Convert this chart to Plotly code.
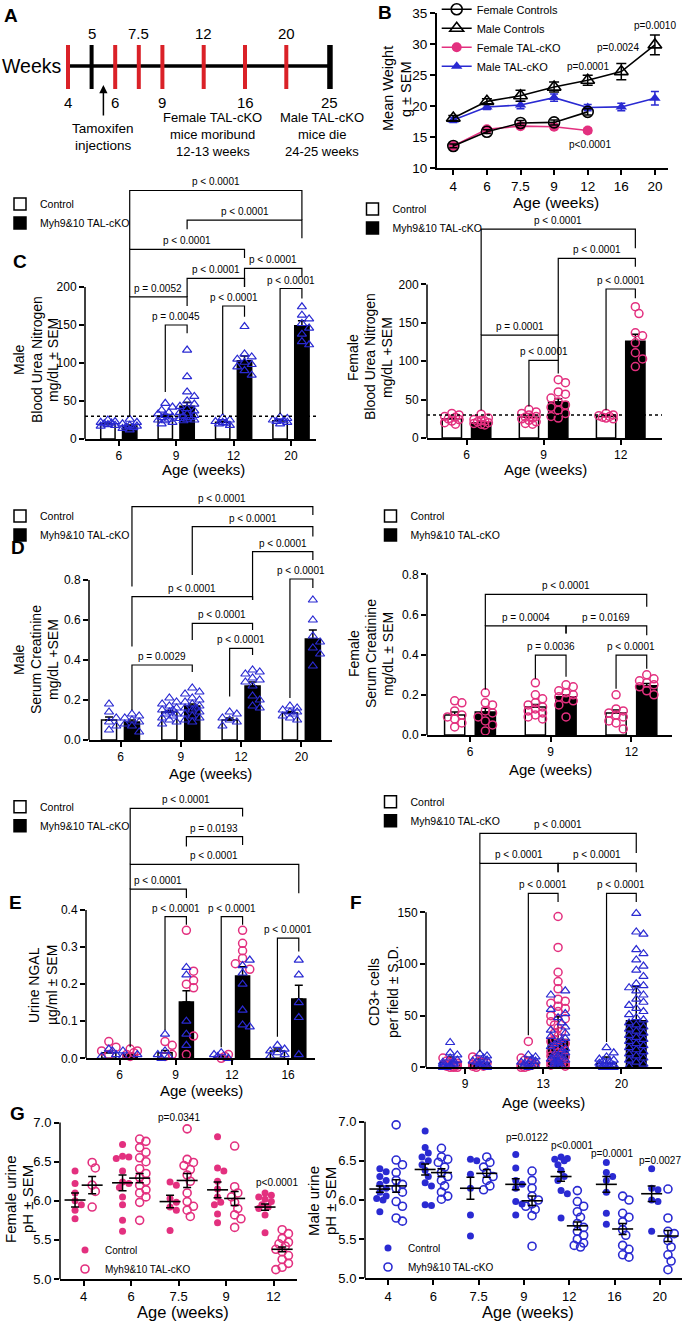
import math
import plotly.graph_objects as go

W, H = 685, 1322
FONT = "Liberation Sans, Arial, Helvetica, sans-serif"
PINK = "#E3307F"
BLUE = "#2A2AD2"
RED = "#DA2128"

# ======================= DATA =======================
# A: study timeline
tl_weeks = [4, 5, 6, 7.5, 9, 12, 16, 20, 25]
tl_labels = ["4", "5", "6", "7.5", "9", "12", "16", "20", "25"]
tl_sampled = [1, 0, 1, 1, 1, 1, 1, 1, 0]

# B: body weight (mean, SEM)
wt_weeks = ["4", "6", "7.5", "9", "12", "16", "20"]
wt_f_ctrl = [13.6, 15.9, 17.3, 17.4, 19.1]
wt_f_ctrl_sem = [0.3, 0.3, 0.4, 0.4, 0.5]
wt_m_ctrl = [18.1, 20.8, 21.7, 23.1, 24.2, 25.6, 29.9]
wt_m_ctrl_sem = [0.4, 0.4, 0.9, 0.8, 0.8, 1.3, 1.6]
wt_f_cko = [13.6, 16.3, 16.8, 16.7, 16.1]
wt_f_cko_sem = [0.3, 0.4, 0.4, 0.4, 0.4]
wt_m_cko = [17.8, 19.9, 20.2, 21.4, 19.8, 19.9, 21.3]
wt_m_cko_sem = [0.4, 0.4, 0.6, 0.6, 0.5, 0.6, 1.1]
wt_pvals = [(6, 33.1, "p=0.0010"), (4.9, 29.5, "p=0.0024"), (4.0, 26.4, "p=0.0001"), (4.07, 13.9, "p<0.0001")]

# C: male BUN
bun_m_weeks = ["6", "9", "12", "20"]
bun_m_ctrl_mean = [20, 30, 22, 24]
bun_m_ctrl_sem = [1.0, 2.2, 1.3, 1.2]
bun_m_cko_mean = [17, 43, 103, 149]
bun_m_cko_sem = [1.4, 5.5, 6.2, 6.5]
bun_m_ctrl_pts = [[25, 23, 22, 21, 20, 19, 18, 17],
                  [47, 42, 38, 35, 33, 31, 29, 28, 26, 25, 24, 22, 20],
                  [28, 25, 23, 22, 21, 20, 18],
                  [29, 27, 25, 24, 23, 22, 20]]
bun_m_cko_pts = [[26, 22, 20, 18, 17, 16, 15, 14, 12],
                 [117, 82, 62, 56, 50, 46, 43, 40, 37, 35, 33, 31, 30, 28, 27, 26, 25, 24],
                 [148, 112, 108, 105, 101, 98, 95, 90, 84],
                 [174, 163, 158, 152, 146, 138, 128, 124]]
bun_m_brackets = [
    ((0, "k"), (3, "k"), 327, 250, 288, "p < 0.0001"),
    ((1, "k"), (3, "k"), 288, 276, 264, "p < 0.0001"),
    ((0, "k"), (2, "k"), 249.5, 187, 238, "p < 0.0001"),
    ((2, "k"), (3, "k"), 224.5, 200, 213, "p < 0.0001"),
    ((1, "k"), (2, "k"), 211.4, 187, 200, "p < 0.0001"),
    ((0, "k"), (1, "k"), 187, 30, 175, "p = 0.0052"),
    ((2, "c"), (2, "k"), 175, 33, 161, "p < 0.0001"),
    ((3, "c"), (3, "k"), 198, 33, 185, "p < 0.0001"),
    ((1, "c"), (1, "k"), 150, 62, 139, "p = 0.0045"),
]

# C: female BUN
bun_f_weeks = ["6", "9", "12"]
bun_f_ctrl_mean = [25, 27, 28]
bun_f_ctrl_sem = [1.5, 1.6, 1.0]
bun_f_cko_mean = [20, 47, 126]
bun_f_cko_sem = [2.0, 4.2, 9.0]
bun_f_ctrl_pts = [[32, 30, 28, 27, 25, 24, 22, 20, 18],
                  [37, 34, 32, 30, 28, 27, 26, 25, 23, 21, 19, 18],
                  [32, 30, 29, 28, 27, 26, 25]]
bun_f_cko_pts = [[31, 26, 24, 23, 22, 21, 20, 19, 18, 17],
                 [76, 72, 60, 57, 52, 47, 43, 40, 36, 32, 28, 26],
                 [171, 162, 137, 133, 124, 111, 103, 93]]
bun_f_brackets = [
    ((0, "k"), (2, "k"), 272, 134, 247, "p < 0.0001"),
    ((1, "k"), (2, "k"), 234, 134, 223, "p < 0.0001"),
    ((2, "c"), (2, "k"), 194, 36, 182, "p < 0.0001"),
    ((0, "k"), (1, "k"), 134, 36, 101, "p = 0.0001"),
    ((1, "c"), (1, "k"), 101, 41, 84, "p < 0.0001"),
]

# D: male creatinine
cr_m_weeks = ["6", "9", "12", "20"]
cr_m_ctrl_mean = [0.10, 0.14, 0.10, 0.135]
cr_m_ctrl_sem = [0.015, 0.008, 0.01, 0.008]
cr_m_cko_mean = [0.09, 0.17, 0.27, 0.505]
cr_m_cko_sem = [0.01, 0.01, 0.02, 0.045]
cr_m_ctrl_pts = [[0.18, 0.14, 0.11, 0.09, 0.07, 0.05],
                 [0.21, 0.19, 0.18, 0.17, 0.16, 0.15, 0.15, 0.14, 0.13, 0.13, 0.12, 0.11, 0.10, 0.09, 0.08],
                 [0.14, 0.13, 0.11, 0.10, 0.09, 0.07],
                 [0.17, 0.16, 0.15, 0.14, 0.14, 0.13, 0.12, 0.11, 0.10]]
cr_m_cko_pts = [[0.13, 0.12, 0.11, 0.10, 0.09, 0.08, 0.07, 0.04],
                [0.26, 0.24, 0.23, 0.21, 0.20, 0.19, 0.18, 0.17, 0.16, 0.16, 0.15, 0.14, 0.13, 0.12, 0.11, 0.10, 0.09],
                [0.35, 0.34, 0.33, 0.31, 0.30, 0.29, 0.27, 0.22, 0.20, 0.17, 0.16],
                [0.70, 0.60, 0.52, 0.49, 0.46, 0.43, 0.37]]
cr_m_brackets = [
    ((0, "k"), (3, "k"), 1.167, 0.767, 1.125, "p < 0.0001"),
    ((1, "k"), (3, "k"), 1.067, 0.825, 1.017, "p < 0.0001"),
    ((2, "k"), (3, "k"), 0.942, 0.70, 0.90, "p < 0.0001"),
    ((3, "c"), (3, "k"), 0.805, 0.21, 0.76, "p < 0.0001"),
    ((0, "k"), (2, "k"), 0.717, 0.467, 0.70, "p < 0.0001"),
    ((1, "k"), (2, "k"), 0.583, 0.50, 0.55, "p < 0.0001"),
    ((2, "c"), (2, "k"), 0.458, 0.217, 0.425, "p < 0.0001"),
    ((0, "k"), (1, "k"), 0.375, 0.15, 0.34, "p = 0.0029"),
]

# D: female creatinine
cr_f_weeks = ["6", "9", "12"]
cr_f_ctrl_mean = [0.10, 0.14, 0.11]
cr_f_ctrl_sem = [0.015, 0.012, 0.015]
cr_f_cko_mean = [0.115, 0.19, 0.245]
cr_f_cko_sem = [0.018, 0.01, 0.012]
cr_f_ctrl_pts = [[0.17, 0.16, 0.12, 0.10, 0.09, 0.08, 0.06, 0.04],
                 [0.26, 0.20, 0.18, 0.16, 0.15, 0.14, 0.13, 0.12, 0.11, 0.10, 0.09, 0.08],
                 [0.20, 0.13, 0.12, 0.11, 0.10, 0.09, 0.07, 0.06, 0.03]]
cr_f_cko_pts = [[0.21, 0.16, 0.15, 0.12, 0.11, 0.09, 0.07, 0.05, 0.02],
                [0.25, 0.24, 0.22, 0.21, 0.20, 0.19, 0.18, 0.17, 0.15, 0.09],
                [0.30, 0.28, 0.27, 0.26, 0.25, 0.24, 0.22, 0.20]]
cr_f_brackets = [
    ((0, "k"), (2, "k"), 0.70, 0.543, 0.639, "p < 0.0001"),
    ((0, "k"), (1, "k"), 0.543, 0.227, 0.506, "p = 0.0004"),
    ((1, "k"), (2, "k"), 0.543, 0.506, 0.497, "p = 0.0169"),
    ((1, "c"), (1, "k"), 0.398, 0.28, 0.29, "p = 0.0036"),
    ((2, "c"), (2, "k"), 0.398, 0.23, 0.33, "p < 0.0001"),
]

# E: urine NGAL (female = pink circles, male = blue triangles)
ngal_weeks = ["6", "9", "12", "16"]
ngal_ctrl_mean = [0.015, 0.015, 0.005, 0.02]
ngal_ctrl_sem = [0.004, 0.006, 0.002, 0.005]
ngal_cko_mean = [0.01, 0.152, 0.222, 0.16]
ngal_cko_sem = [0.003, 0.03, 0.025, 0.037]
ngal_ctrl_f = [[0.045, 0.03, 0.02, 0.01], [0.045, 0.035, 0.01, 0.005], [0.01, 0.005, 0.0], []]
ngal_ctrl_m = [[0.025, 0.02, 0.01, 0.005], [0.065, 0.02, 0.01, 0.005, 0.0],
               [0.015, 0.01, 0.005, 0.0], [0.035, 0.025, 0.02, 0.015, 0.01, 0.005]]
ngal_cko_f = [[0.025, 0.02, 0.015, 0.01, 0.005], [0.345, 0.235, 0.21, 0.2, 0.19, 0.06, 0.01],
              [0.345, 0.31, 0.29, 0.27, 0.255, 0.24], []]
ngal_cko_m = [[0.02, 0.01, 0.005], [0.245, 0.225, 0.1, 0.065, 0.035],
              [0.265, 0.25, 0.23, 0.2, 0.13, 0.09, 0.085], [0.265, 0.225, 0.15, 0.11, 0.01]]
ngal_brackets = [
    ((0, "k"), (2, "k"), 0.674, 0.523, 0.652, "p < 0.0001"),
    ((1, "k"), (2, "k"), 0.598, 0.571, 0.575, "p = 0.0193"),
    ((0, "k"), (3, "k"), 0.523, 0.456, 0.445, "p < 0.0001"),
    ((0, "k"), (1, "k"), 0.456, 0.03, 0.432, "p < 0.0001"),
    ((1, "c"), (1, "k"), 0.382, 0.076, 0.36, "p < 0.0001"),
    ((2, "c"), (2, "k"), 0.382, 0.03, 0.36, "p < 0.0001"),
    ((3, "c"), (3, "k"), 0.324, 0.058, 0.288, "p < 0.0001"),
]

# F: CD3+ cells per field (mean, SD)
cd3_weeks = ["9", "13", "20"]
cd3_ctrl_mean = [5, 4, 4]
cd3_ctrl_sd = [5, 5, 6]
cd3_cko_mean = [4, 27, 45]
cd3_cko_sd = [4, 22, 33]
cd3_ctrl_f = [[9, 6, 5, 4, 3, 3, 2, 1, 1, 0, 0, 0], [25, 9, 7, 5, 4, 3, 2, 2, 1, 0, 0], []]
cd3_ctrl_m = [[24, 14, 12, 9, 7, 6, 5, 4, 3, 3, 2, 1, 1, 0, 0],
              [12, 10, 8, 6, 5, 4, 3, 2, 1, 1, 0],
              [19, 14, 10, 8, 7, 6, 5, 4, 3, 2, 2, 1, 1, 0, 0, 0]]
cd3_cko_f = [[10, 8, 6, 5, 4, 3, 2, 1, 1, 0],
             [146, 116, 92, 83, 76, 66, 64, 62, 59, 57, 54, 50, 47, 44, 41, 38, 35, 33, 30, 27,
              25, 23, 21, 19, 17, 15, 14, 12, 11, 10, 8, 7, 6, 5, 4, 3, 2, 1],
             []]
cd3_cko_m = [[13, 11, 9, 7, 6, 5, 4, 3, 2, 2, 1, 0],
             [74, 70, 56, 52, 48, 43, 39, 36, 33, 30, 28, 26, 24, 22, 20, 18, 16, 14, 13, 11,
              10, 9, 8, 7, 6, 5, 4, 3, 2, 1],
             [149, 131, 129, 114, 110, 104, 98, 94, 88, 81, 79, 77, 74, 70, 66, 63, 60, 57, 54, 51,
              48, 46, 43, 41, 39, 37, 35, 33, 31, 29, 27, 25, 23, 21, 19, 17, 15, 13, 11, 9, 7, 5, 3, 1]]
cd3_brackets = [
    ((0, "k"), (2, "k"), 226.5, 197.5, 207.5, "p < 0.0001"),
    ((0, "k"), (1, "k"), 197.5, 15, 188.8, "p < 0.0001"),
    ((1, "k"), (2, "k"), 197.5, 188.8, 188.8, "p < 0.0001"),
    ((1, "c"), (1, "k"), 168.4, 31, 160, "p < 0.0001"),
    ((2, "c"), (2, "k"), 168.4, 24.5, 160, "p < 0.0001"),
]

# G: urine pH, female
ph_f_weeks = ["4", "6", "7.5", "9", "12"]
ph_f_ctrl_pts = [[6.38, 6.22, 6.10, 6.00, 5.95, 5.88, 5.77],
                 [6.72, 6.57, 6.56, 6.54, 6.38, 6.24, 6.22, 6.17, 6.05, 5.95, 5.75, 5.61],
                 [6.24, 6.20, 6.03, 5.98, 5.92, 5.88, 5.62],
                 [6.82, 6.42, 6.38, 6.25, 6.15, 6.05, 5.98, 5.95, 5.83, 5.72],
                 [6.10, 6.07, 6.05, 6.02, 5.99, 5.95, 5.92, 5.90, 5.82, 5.59]]
ph_f_cko_pts = [[6.49, 6.42, 6.20, 6.12, 5.92],
                [6.79, 6.76, 6.68, 6.62, 6.55, 6.50, 6.41, 6.35, 6.30, 6.25, 6.20, 6.14, 6.10, 6.05, 5.98, 5.75],
                [6.92, 6.53, 6.49, 6.45, 6.40, 6.33, 6.25, 6.10, 5.99, 5.93, 5.88, 5.80],
                [6.70, 6.18, 6.10, 6.05, 5.98, 5.90, 5.82, 5.77, 5.66],
                [5.63, 5.58, 5.52, 5.47, 5.45, 5.42, 5.38, 5.35, 5.30, 5.25, 5.20, 5.15, 5.12]]
ph_f_ctrl_mean = [6.01, 6.23, 5.99, 6.14, 5.92]
ph_f_ctrl_sem = [0.09, 0.10, 0.08, 0.10, 0.04]
ph_f_cko_mean = [6.20, 6.29, 6.26, 6.03, 5.38]
ph_f_cko_sem = [0.11, 0.06, 0.09, 0.09, 0.03]
ph_f_pvals = [(2, 7.07, "p=0.0341"), (4.07, 6.23, "p<0.0001")]

# G: urine pH, male
ph_m_weeks = ["4", "6", "7.5", "9", "12", "16", "20"]
ph_m_ctrl_pts = [[6.40, 6.36, 6.30, 6.25, 6.20, 6.15, 6.10, 6.05, 6.02, 6.00, 5.85],
                 [6.88, 6.67, 6.60, 6.55, 6.50, 6.45, 6.38, 6.30, 6.22, 6.18, 5.94, 5.93],
                 [6.52, 6.50, 6.33, 6.15, 5.81, 5.54],
                 [6.58, 6.41, 6.25, 6.20, 6.15, 5.98, 5.95, 5.81],
                 [6.55, 6.53, 6.52, 6.50, 6.45, 6.38, 6.30, 6.25, 6.12, 6.08, 5.77],
                 [6.48, 6.35, 6.30, 6.25, 6.10, 5.83, 5.69],
                 [6.40, 6.15, 6.13, 6.00, 5.98, 5.60]]
ph_m_cko_pts = [[6.96, 6.51, 6.45, 6.35, 6.25, 6.20, 6.15, 6.10, 5.98, 5.92, 5.77, 5.73],
                [6.66, 6.55, 6.52, 6.48, 6.42, 6.35, 6.30, 6.25, 6.18, 6.10, 6.05, 6.01],
                [6.55, 6.48, 6.42, 6.35, 6.30, 6.25, 6.18, 6.13],
                [6.37, 6.25, 6.15, 6.05, 6.00, 5.95, 5.92, 5.88, 5.80, 5.41],
                [6.12, 5.98, 5.92, 5.85, 5.78, 5.70, 5.65, 5.60, 5.55, 5.50, 5.45, 5.42, 5.40],
                [6.05, 6.00, 5.83, 5.78, 5.72, 5.62, 5.55, 5.42, 5.37, 5.30, 5.27],
                [6.14, 5.77, 5.60, 5.57, 5.48, 5.40, 5.30, 5.22, 5.11]]
ph_m_ctrl_mean = [6.14, 6.39, 6.15, 6.20, 6.30, 6.20, 6.08]
ph_m_ctrl_sem = [0.04, 0.07, 0.14, 0.07, 0.06, 0.10, 0.10]
ph_m_cko_mean = [6.18, 6.35, 6.34, 5.99, 5.67, 5.63, 5.54]
ph_m_cko_sem = [0.08, 0.05, 0.05, 0.06, 0.05, 0.07, 0.07]
ph_m_pvals = [(3.07, 6.80, "p=0.0122"), (4.06, 6.70, "p<0.0001"), (4.94, 6.60, "p=0.0001"), (6.0, 6.50, "p=0.0027")]

# ======================= LAYOUT GEOMETRY =======================
GEO = {
    "B":   dict(n=2,  left=436.7, right=668, x0=453.3, xppu=33.6, y0px=168.3, yppu=6.2, yr=(10, 35)),
    "C_m": dict(n=3,  left=85, right=316, x0=118.8, xppu=57.4, y0px=439, yppu=0.76, yr=(0, 350)),
    "C_f": dict(n=4,  left=427, right=662, x0=466.5, xppu=77.1, y0px=438, yppu=0.768, yr=(0, 295)),
    "D_m": dict(n=5,  left=89, right=332, x0=120.5, xppu=60.3, y0px=740, yppu=200, yr=(0, 1.25)),
    "D_f": dict(n=6,  left=427, right=672, x0=470, xppu=80.7, y0px=735, yppu=200.8, yr=(0, 0.8)),
    "E":   dict(n=7,  left=86, right=315, x0=119.5, xppu=56.2, y0px=1058.3, yppu=370.8, yr=(0, 0.72)),
    "F":   dict(n=8,  left=426, right=662, x0=465, xppu=78.2, y0px=1067.3, yppu=1.033, yr=(0, 245)),
    "G_f": dict(n=9,  left=60, right=297, x0=83.6, xppu=47.5, y0px=1279, yppu=78.2, yr=(5, 7.15)),
    "G_m": dict(n=10, left=365, right=682, x0=388, xppu=45.3, y0px=1278.3, yppu=78.3, yr=(5, 7.15)),
}

fig = go.Figure()
shapes, annots = [], []
layout = {}


def ref(n):
    return ("x" if n == 1 else f"x{n}"), ("y" if n == 1 else f"y{n}")


def text_px(x, y, s, size, angle=0, bold=False, xanchor="center"):
    annots.append(dict(x=x / W, y=1 - y / H, xref="paper", yref="paper",
                       text=f"<b>{s}</b>" if bold else s, showarrow=False, textangle=angle,
                       xanchor=xanchor, yanchor="middle",
                       font=dict(family=FONT, size=size, color="black")))


def setup_axes(key, xt, xtt, yt, ytt, tfont, yline_top=None):
    g = GEO[key]
    n = g["n"]
    xa, ya = ref(n)
    xr = [(g["left"] - g["x0"]) / g["xppu"], (g["right"] - g["x0"]) / g["xppu"]]
    top_px = g["y0px"] - (g["yr"][1] - g["yr"][0]) * g["yppu"]
    common = dict(showgrid=False, zeroline=False, ticks="outside", ticklen=5, tickwidth=1.5,
                  tickcolor="black", linecolor="black", linewidth=1.5, fixedrange=True,
                  tickfont=dict(family=FONT, size=tfont, color="black"), tickmode="array")
    xd = dict(domain=[g["left"] / W, g["right"] / W], range=xr, anchor=ya, tickvals=xt,
              showline=True, **common)
    if xtt is not None:
        xd["ticktext"] = xtt
    yd = dict(domain=[1 - g["y0px"] / H, 1 - top_px / H], range=list(g["yr"]), anchor=xa,
              tickvals=yt, showline=(yline_top is None), **common)
    if ytt is not None:
        yd["ticktext"] = ytt
    layout["xaxis" + ("" if n == 1 else str(n))] = xd
    layout["yaxis" + ("" if n == 1 else str(n))] = yd
    if yline_top is not None:
        shapes.append(dict(type="line", xref=f"{xa} domain", x0=0, x1=0, yref=ya,
                           y0=g["yr"][0], y1=yline_top, line=dict(color="black", width=1.5)))


def swarm(vals, xppu, yppu, diam, maxhalf):
    n = len(vals)
    order = sorted(range(n), key=lambda i: -vals[i])
    step = diam * 0.45
    cands = [0.0]
    k = 1
    while k * step <= maxhalf + 1e-6:
        cands += [k * step, -k * step]
        k += 1
    placed = []
    out = [0.0] * n
    for i in order:
        y = vals[i] * yppu
        best, bestd = 0.0, -1.0
        for c in cands:
            d = min((math.hypot(c - px, y - py) for px, py in placed), default=1e9)
            if d >= diam * 0.9:
                best = c
                break
            if d > bestd:
                best, bestd = c, d
        placed.append((best, y))
        out[i] = best / xppu
    return out


def add_legend(legend_id, sym_x, sym_y, size):
    layout[legend_id] = dict(x=max(sym_x - 20, 0) / W, y=1 - (sym_y - 14.5) / H,
                             xanchor="left", yanchor="top", bgcolor="rgba(0,0,0,0)",
                             font=dict(family=FONT, size=size, color="black"),
                             tracegroupgap=0, traceorder="normal", borderwidth=0)


OFF, BW = 0.19, 0.25


def colx(i, kind, off=OFF):
    return i - off if kind == "c" else i + off


def add_points(key, series, ngroups, off, diam, maxhalf):
    g = GEO[key]
    xa, ya = ref(g["n"])
    coords = [([], []) for _ in series]
    for kind in ("c", "k"):
        idxs = [si for si, s in enumerate(series) if s["kind"] == kind]
        for gi in range(ngroups):
            comb = [(v, si) for si in idxs for v in series[si]["pts"][gi]]
            if not comb:
                continue
            offs = swarm([v for v, _ in comb], g["xppu"], g["yppu"], diam, maxhalf)
            for (v, si), o in zip(comb, offs):
                coords[si][0].append(colx(gi, kind, off) + o)
                coords[si][1].append(v)
    for s, (xs, ys) in zip(series, coords):
        mk = dict(symbol=s["symbol"], size=s.get("size", 8), color=s["color"],
                  line=dict(color=s["color"], width=s.get("lw", 1.3)))
        fig.add_trace(go.Scatter(x=xs, y=ys, mode="markers", marker=mk, xaxis=xa, yaxis=ya,
                                 cliponaxis=False, hoverinfo="skip",
                                 name=s.get("name", ""), showlegend=s.get("showlegend", False),
                                 legend=s.get("legend", "legend")))


def add_brackets(key, brackets):
    xa, ya = ref(GEO[key]["n"])
    for a, b, yl, ya_bot, yb_bot, label in brackets:
        x1, x2 = colx(*a), colx(*b)
        shapes.append(dict(type="path", xref=xa, yref=ya,
                           path=f"M {x1},{ya_bot} L {x1},{yl} L {x2},{yl} L {x2},{yb_bot}",
                           line=dict(color="black", width=1.2)))
        annots.append(dict(x=(x1 + x2) / 2, y=yl, xref=xa, yref=ya, text=label, showarrow=False,
                           yanchor="bottom", yshift=1,
                           font=dict(family=FONT, size=10, color="black")))


def add_bar_panel(key, cats, cm, ce, km, ke, series, yt, ytt, brackets, legend_id, leg_xy, dotted=None,
                  diam=8, maxhalf=8):
    g = GEO[key]
    xa, ya = ref(g["n"])
    idx = list(range(len(cats)))
    setup_axes(key, idx, cats, yt, ytt, 12, yline_top=yt[-1])
    fig.add_trace(go.Bar(x=[colx(i, "c") for i in idx], y=cm, width=BW, name="Control",
                         marker=dict(color="white", line=dict(color="black", width=1.5)),
                         error_y=dict(type="data", array=ce, arrayminus=[0] * len(idx), symmetric=False,
                                      color="black", thickness=1.5, width=4),
                         xaxis=xa, yaxis=ya, legend=legend_id, hoverinfo="skip"))
    fig.add_trace(go.Bar(x=[colx(i, "k") for i in idx], y=km, width=BW, name="Myh9&10 TAL-cKO",
                         marker=dict(color="black", line=dict(color="black", width=1.5)),
                         error_y=dict(type="data", array=ke, arrayminus=[0] * len(idx), symmetric=False,
                                      color="black", thickness=1.5, width=4),
                         xaxis=xa, yaxis=ya, legend=legend_id, hoverinfo="skip"))
    if dotted is not None:
        shapes.append(dict(type="line", xref=f"{xa} domain", x0=0, x1=1, yref=ya, y0=dotted, y1=dotted,
                           line=dict(color="black", width=1.6, dash="dot")))
    add_points(key, series, len(cats), OFF, diam, maxhalf)
    add_brackets(key, brackets)
    add_legend(legend_id, leg_xy[0], leg_xy[1], 10.5)


TRI = dict(symbol="triangle-up-open", color=BLUE, size=8, lw=1.2)
CIR = dict(symbol="circle-open", color=PINK, size=8, lw=1.5)

# ======================= PANEL A =======================
layout["xaxis"] = dict(domain=[0, 340 / W], range=[0, 340], visible=False, fixedrange=True, anchor="y")
layout["yaxis"] = dict(domain=[1 - 170 / H, 1], range=[170, 0], visible=False, fixedrange=True, anchor="x")
fig.add_trace(go.Scatter(x=[None], y=[None], xaxis="x", yaxis="y", showlegend=False, hoverinfo="skip"))
tl_slot = [0, 1, 2, 3, 4, 5.75, 7.5, 9.25, 11.1]   # schematic (non-linear) spacing
TL_X0, TL_STEP, TL_Y = 68, 23.6, 66
tx = [TL_X0 + s * TL_STEP for s in tl_slot]
shapes.append(dict(type="line", xref="x", yref="y", x0=tx[0], x1=tx[-1], y0=TL_Y, y1=TL_Y,
                   line=dict(color="black", width=3.5)))
for i, w in enumerate(tl_weeks):
    col = RED if tl_sampled[i] else "black"
    lw = 5.5 if i == len(tl_weeks) - 1 else 4
    shapes.append(dict(type="line", xref="x", yref="y", x0=tx[i], x1=tx[i], y0=TL_Y - 21, y1=TL_Y + 23,
                       line=dict(color=col, width=lw)))
    annots.append(dict(xref="x", yref="y", x=tx[i], y=33 if i % 2 == 1 else 102, text=tl_labels[i],
                       showarrow=False, font=dict(family=FONT, size=15, color="black")))
text_px(63, 66, "Weeks", 19.5, xanchor="right")
arrow_x = (tx[1] + tx[2]) / 2
annots.append(dict(xref="x", yref="y", x=arrow_x, y=85, ax=arrow_x, ay=117, axref="x", ayref="y",
                   text="", showarrow=True, arrowhead=2, arrowsize=1.1, arrowwidth=1.5, arrowcolor="black"))
text_px(arrow_x, 128, "Tamoxifen", 13.5)
text_px(arrow_x, 146, "injections", 13.5)
for k, s in enumerate(["Female TAL-cKO", "mice moribund", "12-13 weeks"]):
    text_px(213, 118 + 16.7 * k, s, 13)
for k, s in enumerate(["Male TAL-cKO", "mice die", "24-25 weeks"]):
    text_px(322, 118 + 16.7 * k, s, 13)

# ======================= PANEL B =======================
setup_axes("B", list(range(len(wt_weeks))), wt_weeks, [10, 15, 20, 25, 30, 35], None, 13.5)
xi = list(range(len(wt_weeks)))
fig.add_trace(go.Scatter(x=xi[:len(wt_f_cko)], y=wt_f_cko, mode="lines+markers", name="Female TAL-cKO",
                         error_y=dict(array=wt_f_cko_sem, color=PINK, thickness=1.5, width=4),
                         marker=dict(symbol="circle", size=10, color=PINK), line=dict(color=PINK, width=1.6),
                         xaxis="x2", yaxis="y2", legend="legend", legendrank=3, hoverinfo="skip"))
fig.add_trace(go.Scatter(x=xi[:len(wt_m_cko)], y=wt_m_cko, mode="lines+markers", name="Male TAL-cKO",
                         error_y=dict(array=wt_m_cko_sem, color=BLUE, thickness=1.5, width=4),
                         marker=dict(symbol="triangle-up", size=10, color=BLUE), line=dict(color=BLUE, width=1.6),
                         xaxis="x2", yaxis="y2", legend="legend", legendrank=4, hoverinfo="skip"))
fig.add_trace(go.Scatter(x=xi[:len(wt_f_ctrl)], y=wt_f_ctrl, mode="lines+markers", name="Female Controls",
                         error_y=dict(array=wt_f_ctrl_sem, color="black", thickness=1.5, width=4),
                         marker=dict(symbol="circle-open", size=11, color="black", line=dict(width=1.6, color="black")),
                         line=dict(color="black", width=1.6),
                         xaxis="x2", yaxis="y2", legend="legend", legendrank=1, hoverinfo="skip"))
fig.add_trace(go.Scatter(x=xi[:len(wt_m_ctrl)], y=wt_m_ctrl, mode="lines+markers", name="Male Controls",
                         error_y=dict(array=wt_m_ctrl_sem, color="black", thickness=1.5, width=5),
                         marker=dict(symbol="triangle-up-open", size=12, color="black", line=dict(width=1.6, color="black")),
                         line=dict(color="black", width=1.6),
                         xaxis="x2", yaxis="y2", legend="legend", legendrank=2, hoverinfo="skip"))
for x, y, s in wt_pvals:
    annots.append(dict(x=x, y=y, xref="x2", yref="y2", text=s, showarrow=False,
                       font=dict(family=FONT, size=10, color="black")))
add_legend("legend", 456.7, 9.3, 11)

# ======================= PANEL C =======================
add_bar_panel("C_m", bun_m_weeks, bun_m_ctrl_mean, bun_m_ctrl_sem, bun_m_cko_mean, bun_m_cko_sem,
              [dict(kind="c", pts=bun_m_ctrl_pts, **TRI), dict(kind="k", pts=bun_m_cko_pts, **TRI)],
              [0, 50, 100, 150, 200], None, bun_m_brackets, "legend4", (19.5, 204), dotted=30)
add_bar_panel("C_f", bun_f_weeks, bun_f_ctrl_mean, bun_f_ctrl_sem, bun_f_cko_mean, bun_f_cko_sem,
              [dict(kind="c", pts=bun_f_ctrl_pts, **CIR), dict(kind="k", pts=bun_f_cko_pts, **CIR)],
              [0, 50, 100, 150, 200], None, bun_f_brackets, "legend5", (372.5, 209), dotted=30,
              maxhalf=10)

# ======================= PANEL D =======================
cr_ticks = [0, 0.2, 0.4, 0.6, 0.8]
cr_tt = ["0.0", "0.2", "0.4", "0.6", "0.8"]
add_bar_panel("D_m", cr_m_weeks, cr_m_ctrl_mean, cr_m_ctrl_sem, cr_m_cko_mean, cr_m_cko_sem,
              [dict(kind="c", pts=cr_m_ctrl_pts, **TRI), dict(kind="k", pts=cr_m_cko_pts, **TRI)],
              cr_ticks, cr_tt, cr_m_brackets, "legend6", (19.5, 516))
add_bar_panel("D_f", cr_f_weeks, cr_f_ctrl_mean, cr_f_ctrl_sem, cr_f_cko_mean, cr_f_cko_sem,
              [dict(kind="c", pts=cr_f_ctrl_pts, **CIR), dict(kind="k", pts=cr_f_cko_pts, **CIR)],
              cr_ticks, cr_tt, cr_f_brackets, "legend7", (390.5, 516), maxhalf=10)

# ======================= PANEL E =======================
add_bar_panel("E", ngal_weeks, ngal_ctrl_mean, ngal_ctrl_sem, ngal_cko_mean, ngal_cko_sem,
              [dict(kind="c", pts=ngal_ctrl_f, **CIR), dict(kind="c", pts=ngal_ctrl_m, **TRI),
               dict(kind="k", pts=ngal_cko_f, **CIR), dict(kind="k", pts=ngal_cko_m, **TRI)],
              [0, 0.1, 0.2, 0.3, 0.4], ["0.0", "0.1", "0.2", "0.3", "0.4"], ngal_brackets,
              "legend8", (17.5, 806.7))

# ======================= PANEL F =======================
add_bar_panel("F", cd3_weeks, cd3_ctrl_mean, cd3_ctrl_sd, cd3_cko_mean, cd3_cko_sd,
              [dict(kind="c", pts=cd3_ctrl_f, **CIR), dict(kind="c", pts=cd3_ctrl_m, **TRI),
               dict(kind="k", pts=cd3_cko_f, **CIR), dict(kind="k", pts=cd3_cko_m, **TRI)],
              [0, 50, 100, 150], None, cd3_brackets, "legend9", (390.5, 801.7), maxhalf=9)

# ======================= PANEL G =======================
OFFG = 0.18


def add_dot_panel(key, cats, cpts, kpts, cm, cs, km, ks, color, legend_id, leg_xy, pvals):
    g = GEO[key]
    xa, ya = ref(g["n"])
    idx = list(range(len(cats)))
    setup_axes(key, idx, cats, [5, 5.5, 6, 6.5, 7], ["5.0", "5.5", "6.0", "6.5", "7.0"], 13, yline_top=7.0)
    add_points(key, [dict(kind="c", pts=cpts, symbol="circle", color=color, size=7, lw=0,
                          name="Control", showlegend=True, legend=legend_id),
                     dict(kind="k", pts=kpts, symbol="circle-open", color=color, size=8, lw=1.6,
                          name="Myh9&10 TAL-cKO", showlegend=True, legend=legend_id)],
               len(cats), OFFG, 7, 7)
    for kind, means, sems in (("c", cm, cs), ("k", km, ks)):
        fig.add_trace(go.Scatter(x=[colx(i, kind, OFFG) for i in idx], y=means, mode="markers",
                                 marker=dict(symbol="line-ew", size=15, color="black",
                                             line=dict(width=1.6, color="black")),
                                 error_y=dict(array=sems, color="black", thickness=1.5, width=4),
                                 xaxis=xa, yaxis=ya, showlegend=False, hoverinfo="skip", cliponaxis=False))
    for x, y, s in pvals:
        annots.append(dict(x=x, y=y, xref=xa, yref=ya, text=s, showarrow=False,
                           font=dict(family=FONT, size=10, color="black")))
    add_legend(legend_id, leg_xy[0], leg_xy[1], 10)


add_dot_panel("G_f", ph_f_weeks, ph_f_ctrl_pts, ph_f_cko_pts, ph_f_ctrl_mean, ph_f_ctrl_sem,
              ph_f_cko_mean, ph_f_cko_sem, PINK, "legend2", (85, 1250), ph_f_pvals)
add_dot_panel("G_m", ph_m_weeks, ph_m_ctrl_pts, ph_m_cko_pts, ph_m_ctrl_mean, ph_m_ctrl_sem,
              ph_m_cko_mean, ph_m_cko_sem, BLUE, "legend3", (388, 1248), ph_m_pvals)

# ======================= TEXT LABELS =======================
for s, x, y in [("A", 11, 15), ("B", 385, 13), ("C", 20, 262), ("D", 18, 547),
                ("E", 16, 902), ("F", 356, 902), ("G", 17, 1113)]:
    text_px(x, y, s, 19, bold=True)

for x, y, sz in [(556, 203, 15.5), (203, 470, 15), (545, 469, 15), (210, 774, 15), (550, 769, 15),
                 (201, 1090, 15), (543, 1102, 15), (183, 1312, 16.5), (528, 1312, 16.5)]:
    text_px(x, y, "Age (weeks)", sz)

ytitles = [
    ([388, 406], 89, ["Mean Weight", "g ± SEM"], 14.5),
    ([19, 37, 53], 360, ["Male", "Blood Urea Nitrogen", "mg/dL ± SEM"], 14),
    ([353, 370, 387], 357, ["Female", "Blood Urea Nitrogen", "mg/dL +SEM"], 14),
    ([19, 36, 53], 660, ["Male", "Serum Creatinine", "mg/dL +SEM"], 14),
    ([354, 371, 388], 654, ["Female", "Serum Creatinine", "mg/dL ± SEM"], 14),
    ([34, 52], 985, ["Urine NGAL", "µg/ml ± SEM"], 14),
    ([374, 393], 992, ["CD3+ cells", "per field ± S.D."], 14),
    ([10, 27], 1199, ["Female urine", "pH ± SEM"], 15),
    ([313, 330], 1201, ["Male urine", "pH ± SEM"], 15),
]
for xs, yc, lines, sz in ytitles:
    for x, s in zip(xs, lines):
        text_px(x, yc, s, sz, angle=-90)

layout.update(dict(
    width=W, height=H, margin=dict(l=0, r=0, t=0, b=0, pad=0, autoexpand=False),
    paper_bgcolor="white", plot_bgcolor="white", barmode="overlay", showlegend=True,
    font=dict(family=FONT, color="black"), shapes=shapes, annotations=annots,
))
fig.update_layout(**layout)
fig.write_html("out.html", config={"displayModeBar": False},
               post_script="document.body.style.margin='0';document.body.style.padding='0';"
                           "document.documentElement.style.overflow='hidden';")
